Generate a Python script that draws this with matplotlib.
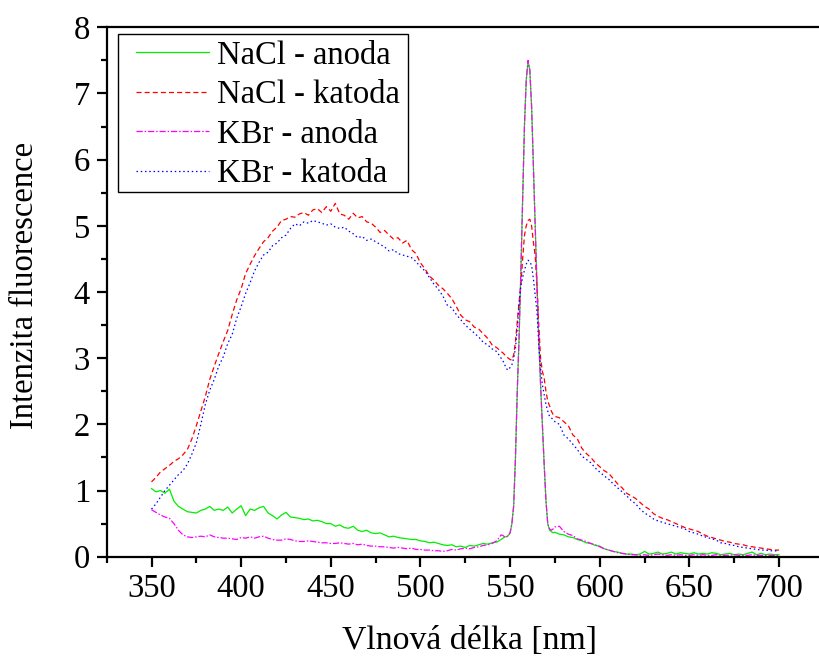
import numpy as np
import matplotlib
matplotlib.use("Agg")
import matplotlib.pyplot as plt
from matplotlib.ticker import MultipleLocator
from matplotlib.patches import Rectangle

plt.rcParams['font.family'] = ['Liberation Serif', 'DejaVu Serif']

# wavelength grid [nm]
wl_a = np.arange(350.0, 545.1, 2.5)      # 79 points
wl_b = np.arange(546.0, 575.1, 1.0)      # 30 points
wl_c = np.arange(577.5, 700.1, 2.5)      # 50 points
wavelength = np.concatenate([wl_a, wl_b, wl_c])

nacl_katoda = [
    1.13, 1.20, 1.28, 1.33, 1.38, 1.44, 1.48, 1.54, 1.62, 1.78,
    1.98, 2.20, 2.42, 2.68, 2.88, 3.07, 3.25, 3.42, 3.66, 3.88,
    4.05, 4.28, 4.42, 4.55, 4.66, 4.76, 4.82, 4.92, 4.98, 5.08,
    5.10, 5.14, 5.13, 5.18, 5.20, 5.16, 5.24, 5.26, 5.20, 5.29,
    5.22, 5.34, 5.18, 5.16, 5.10, 5.19, 5.12, 5.14, 5.06, 5.04,
    4.98, 4.90, 4.93, 4.86, 4.80, 4.82, 4.74, 4.78, 4.64, 4.58,
    4.44, 4.35, 4.24, 4.18, 4.10, 4.05, 3.98, 3.90, 3.78, 3.65,
    3.58, 3.55, 3.47, 3.44, 3.37, 3.30, 3.20, 3.16, 3.10,
    # 546-575
    3.08, 3.05, 3.02, 3.00, 2.98, 2.97, 3.05, 3.25, 3.55, 3.85,
    4.10, 4.50, 4.85, 5.00, 5.08, 5.10, 5.00, 4.75, 4.55, 4.10,
    3.50, 3.00, 2.80, 2.70, 2.50, 2.35, 2.28, 2.20, 2.15, 2.12,
    # 577.5-700
    2.10, 2.04, 1.98, 1.84, 1.78, 1.64, 1.56, 1.50, 1.42, 1.36,
    1.30, 1.26, 1.18, 1.10, 1.04, 0.96, 0.92, 0.88, 0.82, 0.76,
    0.72, 0.65, 0.61, 0.58, 0.56, 0.53, 0.50, 0.47, 0.44, 0.42,
    0.40, 0.38, 0.34, 0.31, 0.29, 0.27, 0.25, 0.23, 0.22, 0.20,
    0.19, 0.18, 0.16, 0.15, 0.14, 0.13, 0.12, 0.11, 0.10, 0.10,
]

kbr_katoda = [
    0.72, 0.80, 0.90, 1.00, 1.08, 1.16, 1.24, 1.30, 1.40, 1.55,
    1.72, 2.00, 2.30, 2.52, 2.68, 2.88, 3.02, 3.22, 3.36, 3.60,
    3.78, 3.98, 4.14, 4.32, 4.45, 4.56, 4.60, 4.70, 4.74, 4.82,
    4.86, 4.96, 5.03, 5.00, 5.06, 5.04, 5.08, 5.06, 5.04, 5.01,
    5.03, 4.98, 4.96, 4.98, 4.92, 4.88, 4.82, 4.84, 4.78, 4.80,
    4.76, 4.72, 4.68, 4.62, 4.64, 4.58, 4.56, 4.54, 4.52, 4.46,
    4.38, 4.32, 4.22, 4.12, 4.04, 3.94, 3.80, 3.76, 3.66, 3.58,
    3.50, 3.44, 3.38, 3.32, 3.24, 3.20, 3.14, 3.10, 3.00,
    # 546-575
    2.96, 2.90, 2.84, 2.82, 2.86, 2.90, 3.00, 3.15, 3.45, 3.80,
    4.10, 4.22, 4.33, 4.42, 4.48, 4.46, 4.40, 4.20, 3.95, 3.70,
    3.20, 2.85, 2.60, 2.45, 2.30, 2.20, 2.12, 2.10, 2.07, 2.04,
    # 577.5-700
    2.00, 1.84, 1.78, 1.70, 1.62, 1.52, 1.47, 1.42, 1.34, 1.28,
    1.22, 1.17, 1.10, 1.04, 0.98, 0.92, 0.85, 0.80, 0.72, 0.66,
    0.62, 0.57, 0.54, 0.52, 0.50, 0.48, 0.46, 0.44, 0.42, 0.38,
    0.36, 0.34, 0.31, 0.29, 0.27, 0.25, 0.21, 0.20, 0.18, 0.17,
    0.15, 0.14, 0.13, 0.12, 0.11, 0.10, 0.10, 0.09, 0.09, 0.08,
]

nacl_anoda = [
    1.03, 0.98, 1.00, 0.96, 1.02, 0.84, 0.76, 0.72, 0.68, 0.67,
    0.66, 0.70, 0.72, 0.76, 0.70, 0.72, 0.70, 0.75, 0.66, 0.72,
    0.77, 0.62, 0.72, 0.70, 0.74, 0.76, 0.66, 0.62, 0.57, 0.63,
    0.67, 0.60, 0.59, 0.58, 0.56, 0.57, 0.54, 0.55, 0.53, 0.50,
    0.50, 0.46, 0.48, 0.44, 0.43, 0.46, 0.40, 0.38, 0.40, 0.36,
    0.35, 0.36, 0.33, 0.30, 0.31, 0.29, 0.28, 0.27, 0.26, 0.26,
    0.24, 0.23, 0.21, 0.22, 0.20, 0.18, 0.17, 0.18, 0.15, 0.16,
    0.14, 0.17, 0.16, 0.18, 0.20, 0.19, 0.21, 0.22, 0.26,
    # 546-575
    0.28, 0.30, 0.30, 0.32, 0.36, 0.50, 0.78, 1.50, 2.50, 3.30,
    4.30, 5.40, 6.50, 7.20, 7.48, 7.35, 6.80, 5.90, 5.00, 4.10,
    3.30, 2.60, 2.00, 1.40, 0.85, 0.50, 0.40, 0.38, 0.36, 0.37,
    # 577.5-700
    0.34, 0.33, 0.30, 0.29, 0.26, 0.24, 0.21, 0.20, 0.17, 0.16,
    0.12, 0.10, 0.08, 0.07, 0.05, 0.04, 0.04, 0.03, 0.04, 0.08,
    0.04, 0.05, 0.07, 0.04, 0.05, 0.07, 0.04, 0.06, 0.05, 0.04,
    0.06, 0.04, 0.05, 0.04, 0.06, 0.05, 0.03, 0.04, 0.05, 0.03,
    0.04, 0.03, 0.05, 0.07, 0.03, 0.05, 0.03, 0.04, 0.03, 0.03,
]

kbr_anoda = [
    0.71, 0.67, 0.63, 0.60, 0.58, 0.50, 0.40, 0.33, 0.30, 0.29,
    0.30, 0.31, 0.30, 0.33, 0.30, 0.29, 0.28, 0.28, 0.27, 0.26,
    0.29, 0.28, 0.30, 0.28, 0.30, 0.31, 0.28, 0.26, 0.25, 0.25,
    0.27, 0.26, 0.24, 0.23, 0.23, 0.24, 0.23, 0.22, 0.21, 0.21,
    0.20, 0.20, 0.21, 0.20, 0.19, 0.20, 0.18, 0.19, 0.17, 0.16,
    0.16, 0.15, 0.15, 0.14, 0.13, 0.14, 0.13, 0.12, 0.13, 0.11,
    0.11, 0.10, 0.10, 0.09, 0.09, 0.08, 0.09, 0.11, 0.10, 0.12,
    0.13, 0.12, 0.14, 0.15, 0.17, 0.18, 0.20, 0.24, 0.33,
    # 546-575
    0.32, 0.30, 0.30, 0.32, 0.36, 0.50, 0.76, 1.50, 2.50, 3.30,
    4.30, 5.40, 6.50, 7.20, 7.50, 7.36, 6.80, 5.90, 5.00, 4.10,
    3.30, 2.60, 2.00, 1.40, 0.85, 0.50, 0.42, 0.40, 0.42, 0.45,
    # 577.5-700
    0.46, 0.38, 0.34, 0.32, 0.27, 0.25, 0.23, 0.20, 0.18, 0.15,
    0.12, 0.10, 0.08, 0.06, 0.05, 0.04, 0.03, 0.03, 0.02, 0.03,
    0.02, 0.03, 0.04, 0.03, 0.02, 0.03, 0.02, 0.03, 0.02, 0.02,
    0.03, 0.02, 0.03, 0.02, 0.02, 0.03, 0.02, 0.02, 0.02, 0.03,
    0.02, 0.02, 0.02, 0.03, 0.02, 0.02, 0.02, 0.02, 0.02, 0.02,
]

labels = ["NaCl - anoda", "NaCl - katoda", "KBr - anoda", "KBr - katoda"]
xlabel = "Vlnová délka [nm]"
ylabel = "Intenzita fluorescence"

FS = 23.5
W, H = 819.0, 659.0

fig = plt.figure(figsize=(8.19, 6.59), dpi=100)
ax = fig.add_axes([106.7 / W, 1 - 556.7 / H, 1 - 106.7 / W, (556.7 - 27.3) / H])

lw = 0.9
ax.plot(wavelength, nacl_anoda, color="#00ee00", lw=lw, ls="-", label=labels[0])
ax.plot(wavelength, nacl_katoda, color="#ff0000", lw=lw, ls=(0, (4, 2.5)), label=labels[1])
ax.plot(wavelength, kbr_anoda, color="#ff00ff", lw=lw, ls=(0, (5, 1.5, 1.2, 1.5)), label=labels[2])
ax.plot(wavelength, kbr_katoda, color="#0000ff", lw=lw, ls=(0, (1.2, 2.2)), label=labels[3])

ax.set_xlim(325, 722.3)
ax.set_ylim(0, 8)
ax.xaxis.set_major_locator(MultipleLocator(50))
ax.xaxis.set_minor_locator(MultipleLocator(25))
ax.yaxis.set_major_locator(MultipleLocator(1))
ax.yaxis.set_minor_locator(MultipleLocator(0.5))
ax.set_xticks(np.arange(350, 701, 50))

ax.spines['right'].set_visible(False)
for s in ['left', 'bottom', 'top']:
    ax.spines[s].set_linewidth(1.6)
ax.tick_params(axis='both', which='major', direction='out', length=7, width=1.6,
               labelsize=FS, pad=5)
ax.tick_params(axis='both', which='minor', direction='out', length=4.5, width=1.6)
ax.tick_params(top=False, right=False, which='both')

ax.set_xlabel(xlabel, fontsize=24.3)
ax.set_ylabel(ylabel, fontsize=FS)
ax.xaxis.set_label_coords(0.5 + (470 - 463) / 712.3, (556.7 - 626) / 529.4)
ax.yaxis.set_label_coords((40 - 106.7) / 712.3, (556.7 - 285) / 529.4)

# legend frame (white box with thin black border)
ax.add_patch(Rectangle((118 / W, 1 - 192 / H), 290 / W, 158 / H,
                       transform=fig.transFigure, facecolor='white',
                       edgecolor='black', lw=1.0, zorder=4.9, clip_on=False))
leg = ax.legend(loc='upper left', bbox_to_anchor=(136 / W, 1 - 40 / H),
                bbox_transform=fig.transFigure, borderaxespad=0,
                fontsize=FS, frameon=False,
                handlelength=2.24, handletextpad=0.25, labelspacing=0.28,
                borderpad=0.0)

fig.savefig("out.png", dpi=100)
